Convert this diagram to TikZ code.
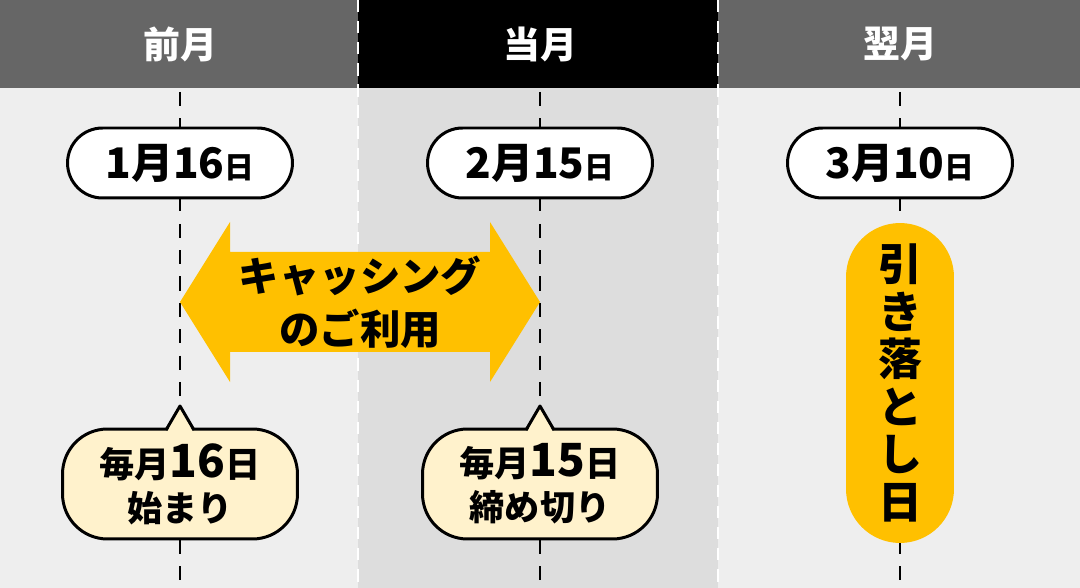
\documentclass[tikz,border=0pt]{standalone}
\usepackage{fontspec}
\setmainfont{Noto Sans CJK JP}
\usetikzlibrary{positioning}
\definecolor{headgray}{RGB}{102,102,102}
\definecolor{bglight}{RGB}{238,238,238}
\definecolor{bgmid}{RGB}{221,221,221}
\definecolor{gold}{RGB}{255,192,0}
\definecolor{cream}{RGB}{255,242,204}

\begin{document}
\begin{tikzpicture}[
    x=0.02cm, y=-0.02cm,
    header/.style={text=white, font=\bfseries\fontsize{21}{24}\selectfont},
    datepill/.style={draw, line width=1.7pt, fill=white, rounded corners=0.7cm,
        minimum width=4.5cm, minimum height=1.4cm, font=\bfseries},
    callout/.style={draw, line width=1.7pt, fill=cream, rounded corners=0.9cm,
        minimum width=4.7cm, minimum height=2.2cm, align=center,
        font=\bfseries\fontsize{20}{25}\selectfont},
    timeline/.style={line width=1.7pt, dash pattern=on 8pt off 7pt},
    divider/.style={white, line width=1.7pt, dash pattern=on 7pt off 5pt},
]
\useasboundingbox (0,0) rectangle (1080,588);

% Backgrounds
\fill[bglight] (0,88) rectangle (358,588);
\fill[bgmid] (358,88) rectangle (718,588);
\fill[bglight] (718,88) rectangle (1080,588);

% Header
\fill[headgray] (0,0) rectangle (358,88);
\fill[black] (358,0) rectangle (718,88);
\fill[headgray] (718,0) rectangle (1080,88);
\node[header] (prev) at (180,44) {前月};
\node[header] (curr) at (540,44) {当月};
\node[header] (next) at (900,44) {翌月};

% Dividers
\draw[divider] (358,0) -- (358,588);
\draw[divider] (718,0) -- (718,588);

% Timelines
\foreach \x in {180,540,900}
    \draw[timeline] (\x,92) -- (\x,588);

% Dates
\node[datepill] (d1) at (180,163) {\fontsize{24}{26}\selectfont 1月16\fontsize{17}{18}\selectfont 日};
\node[datepill] (d2) at (540,163) {\fontsize{24}{26}\selectfont 2月15\fontsize{17}{18}\selectfont 日};
\node[datepill] (d3) at (900,163) {\fontsize{24}{26}\selectfont 3月10\fontsize{17}{18}\selectfont 日};

% Usage arrow
\fill[gold] (180,302) -- (230,222) -- (230,252) -- (490,252) -- (490,222)
    -- (540,302) -- (490,382) -- (490,352) -- (230,352) -- (230,382) -- cycle;
\node[align=center, font=\bfseries\fontsize{23}{30}\selectfont] (usage) at (360,302)
    {キャッシング\\のご利用};

% Callouts
\node[callout] (start) at (180,484) {毎月\fontsize{26}{25}\selectfont 16\fontsize{20}{25}\selectfont 日\\始まり};
\node[callout] (close) at (540,484) {毎月\fontsize{26}{25}\selectfont 15\fontsize{20}{25}\selectfont 日\\締め切り};
\foreach \x in {180,540} {
    \fill[cream] (\x-13,432) -- (\x,406) -- (\x+13,432) -- cycle;
    \draw[line width=1.7pt, line join=round] (\x-14,430) -- (\x,406) -- (\x+14,430);
}

% Debit day
\node[fill=gold, rounded corners=1.08cm, minimum width=2.16cm, minimum height=6.4cm,
    align=center, font=\bfseries\fontsize{25}{27}\selectfont] (debit) at (900,383)
    {引\\き\\落\\と\\し\\日};
\end{tikzpicture}
\end{document}
